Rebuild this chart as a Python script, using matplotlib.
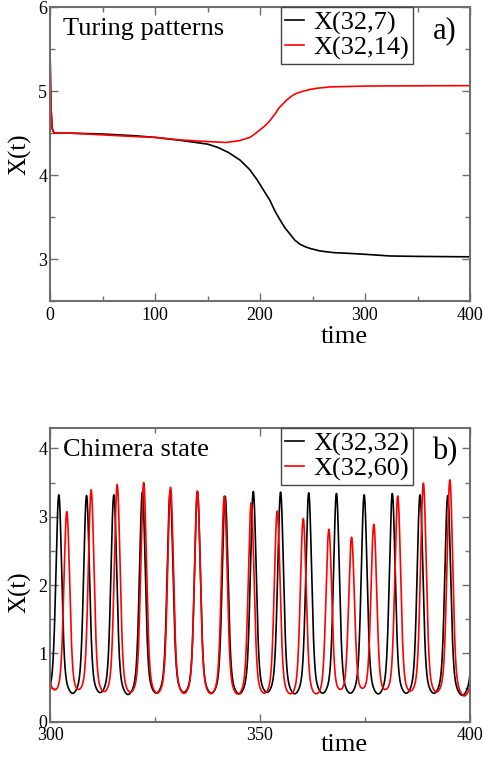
import numpy as np
import matplotlib
matplotlib.use('Agg')
import matplotlib.pyplot as plt

plt.rcParams['font.family'] = ['Liberation Serif', 'DejaVu Serif']

# ---- Panel a) Turing patterns ----
t_black_a = [0, 0.5, 1, 2, 4, 20, 50, 80, 100, 127, 150, 160, 170, 181, 190, 197, 203,
             209.5, 214, 219, 224, 228.6, 233, 238, 243, 247.6, 257, 270, 286, 300, 324, 350, 400]
x_black_a = [5.5, 5.1, 4.8, 4.56, 4.5, 4.5, 4.49, 4.47, 4.45, 4.41, 4.37, 4.33, 4.27, 4.18,
             4.07, 3.95, 3.83, 3.70, 3.58, 3.47, 3.37, 3.30, 3.23, 3.18, 3.15, 3.13, 3.10,
             3.08, 3.07, 3.06, 3.04, 3.035, 3.03]
t_red_a = [0, 0.5, 1, 2, 4, 20, 50, 80, 100, 124, 150, 168, 180, 190.5, 195, 200, 205, 209.5,
           215, 218, 222, 225, 229, 232, 235, 240, 247.6, 255, 266.7, 300, 324, 400]
x_red_a = [5.5, 5.1, 4.8, 4.55, 4.5, 4.5, 4.48, 4.46, 4.45, 4.42, 4.40, 4.39, 4.41, 4.45,
           4.49, 4.54, 4.59, 4.65, 4.74, 4.80, 4.85, 4.89, 4.93, 4.955, 4.975, 4.995, 5.02,
           5.035, 5.05, 5.06, 5.062, 5.065]
labels_a = ['X(32,7)', 'X(32,14)']

# ---- Panel b) Chimera state: peak times / heights ----
black_peak_t = [295.5, 302.1, 308.7, 315.2, 322.0, 328.6, 335.1, 341.7, 348.4, 354.9,
                361.6, 368.2, 374.8, 381.5, 388.1, 394.7, 401.6]
black_peak_h = [3.3, 3.32, 3.31, 3.32, 3.36, 3.37, 3.37, 3.30, 3.37, 3.36,
                3.35, 3.34, 3.32, 3.34, 3.32, 3.31, 3.3]
red_peak_t = [298.3, 304.0, 309.8, 316.0, 322.3, 328.7, 335.1, 341.5, 347.9, 354.1,
              360.3, 366.4, 371.8, 377.1, 382.8, 388.9, 395.2, 402.0]
red_peak_h = [3.0, 3.07, 3.39, 3.47, 3.50, 3.43, 3.37, 3.30, 3.20, 3.08,
              2.97, 2.81, 2.69, 2.88, 3.30, 3.49, 3.54, 3.4]
black_base = 0.22
red_base = 0.19
labels_b = ['X(32,32)', 'X(32,60)']


def spike_train(t, peak_t, peak_h, base):
    x = np.full_like(t, base)
    for tp, h in zip(peak_t, peak_h):
        dt = t - tp
        shape = 0.83 * np.exp(-0.5 * (dt / 0.65) ** 2) + 0.17 * np.exp(-0.5 * (dt / 1.8) ** 2)
        x += (h - base) * shape
    return x


t_b = np.arange(300, 400.0001, 0.02)
x_black_b = spike_train(t_b, black_peak_t, black_peak_h, black_base)
x_red_b = spike_train(t_b, red_peak_t, red_peak_h, red_base)

W, H = 483, 757
fig = plt.figure(figsize=(W / 100, H / 100), dpi=100)
left = 50 / W
width = 420 / W
ax1 = fig.add_axes([left, 1 - 301.4 / H, width, 294.4 / H])
ax2 = fig.add_axes([left, 1 - 721.7 / H, width, 293.7 / H])

spine_col = '#6e6e6e'
lw = 1.2

ax1.plot(t_black_a, x_black_a, color='black', lw=lw, label=labels_a[0])
ax1.plot(t_red_a, x_red_a, color='#ff0000', lw=lw, label=labels_a[1])
ax2.plot(t_b, x_black_b, color='black', lw=lw, label=labels_b[0])
ax2.plot(t_b, x_red_b, color='#ff0000', lw=lw, label=labels_b[1])

ax1.set_xlim(0, 400)
ax1.set_ylim(2.5, 6)
ax1.set_xticks([0, 100, 200, 300, 400])
ax1.set_xticks([50, 150, 250, 350], minor=True)
ax1.set_yticks([3, 4, 5, 6])
ax1.set_yticks([2.5, 3.5, 4.5, 5.5], minor=True)

ax2.set_xlim(300, 400)
ax2.set_ylim(0, 4.3)
ax2.set_xticks([300, 350, 400])
ax2.set_xticks([325, 375], minor=True)
ax2.set_yticks([0, 1, 2, 3, 4])
ax2.set_yticks([0.5, 1.5, 2.5, 3.5], minor=True)

for ax, title, tag, ylab_y, xlab_y in [(ax1, 'Turing patterns', 'a)', 0.50, -0.121),
                                       (ax2, 'Chimera state', 'b)', 0.44, -0.079)]:
    for s in ax.spines.values():
        s.set_color(spine_col)
        s.set_linewidth(1.5)
    ax.tick_params(which='both', direction='in', top=True, right=True,
                   color=spine_col, width=1.0, labelsize=13, labelcolor='black')
    ax.tick_params(which='major', length=6, pad=4)
    ax.tick_params(which='minor', length=3.5)
    ax.tick_params(axis='y', pad=2)
    ax.set_xlabel('time', fontsize=19)
    ax.xaxis.set_label_coords(0.70, xlab_y)
    ax.xaxis.label.set_va('center')
    ax.set_ylabel('X(t)', fontsize=18)
    ax.yaxis.set_label_coords(-0.072, ylab_y)
    ax.yaxis.label.set_va('center')
    ax.text(0.03, 0.925, title, transform=ax.transAxes, fontsize=19,
            ha='left', va='center')
    ax.text(0.94, 0.92, tag, transform=ax.transAxes, fontsize=22,
            ha='center', va='center')
    leg = ax.legend(loc='upper left', bbox_to_anchor=(0.549, 1.0), frameon=True,
                    fancybox=False, edgecolor='#444444', framealpha=1,
                    handlelength=0.75, handletextpad=0.35, borderpad=0.15,
                    labelspacing=0.05, borderaxespad=0, fontsize=19)
    leg.get_frame().set_linewidth(1.0)

fig.savefig('out.png', dpi=100)
